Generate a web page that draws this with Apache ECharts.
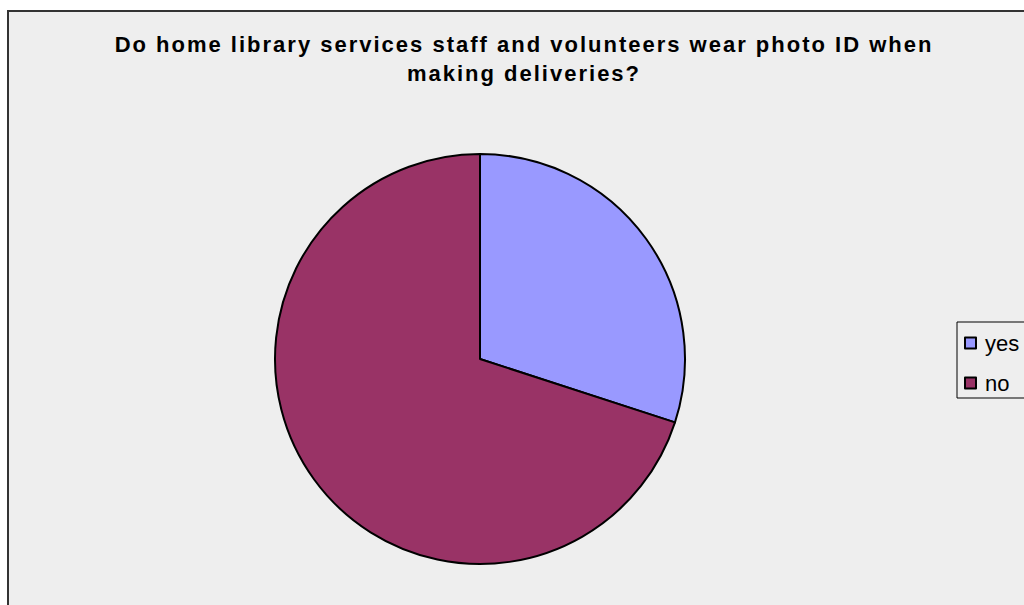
<!DOCTYPE html>
<html>
<head>
<meta charset="utf-8">
<script src="https://cdn.jsdelivr.net/npm/echarts@6/dist/echarts.min.js"></script>
<style>
  html, body { margin: 0; padding: 0; background: #ffffff; }
  #chart { width: 1024px; height: 605px; }
</style>
</head>
<body>
<div id="chart"></div>
<script>
// Survey answers (percent of respondents)
const categories = ['yes', 'no'];
const shares = [30, 70];
const sliceColors = ['#9999FF', '#993366'];

const titleLines = [
  'Do home library services staff and volunteers wear photo ID when',
  'making deliveries?'
];

const chart = echarts.init(document.getElementById('chart'), null, { renderer: 'svg' });

chart.setOption({
  animation: false,
  backgroundColor: '#ffffff',
  graphic: [
    {
      type: 'rect',
      z: -10,
      shape: { x: 8, y: 11, width: 1030, height: 610 },
      style: { fill: '#EEEEEE', stroke: '#333333', lineWidth: 2 }
    }
  ],
  title: {
    text: titleLines.join('\n'),
    left: 519,
    top: 25,
    textAlign: 'center',
    textStyle: {
      fontFamily: 'Liberation Sans, Arial, sans-serif',
      fontSize: 22,
      fontWeight: 'bold',
      color: '#000000',
      lineHeight: 29
    }
  },
  legend: {
    orient: 'vertical',
    left: 957,
    top: 322,
    width: 80,
    padding: [10, 40, 4, 7],
    itemGap: 18,
    itemWidth: 11,
    itemHeight: 11,
    borderColor: '#000000',
    borderWidth: 1,
    backgroundColor: '#EEEEEE',
    icon: 'rect',
    textStyle: {
      fontFamily: 'Liberation Sans, Arial, sans-serif',
      fontSize: 22,
      lineHeight: 22,
      color: '#000000',
      padding: [0, 0, 0, 4]
    },
    data: categories
  },
  series: [
    {
      type: 'pie',
      center: [480, 359],
      radius: 205,
      startAngle: 90,
      clockwise: true,
      label: { show: false },
      labelLine: { show: false },
      emphasis: { disabled: true },
      itemStyle: { borderColor: '#000000', borderWidth: 2 },
      data: categories.map((name, i) => ({
        name: name,
        value: shares[i],
        itemStyle: { color: sliceColors[i] }
      }))
    }
  ]
});

// Spread out the title lettering a little
document.querySelectorAll('#chart text').forEach(function (el) {
  if (titleLines.indexOf(el.textContent.trim()) !== -1) {
    el.style.letterSpacing = '2px';
  }
});
</script>
</body>
</html>
